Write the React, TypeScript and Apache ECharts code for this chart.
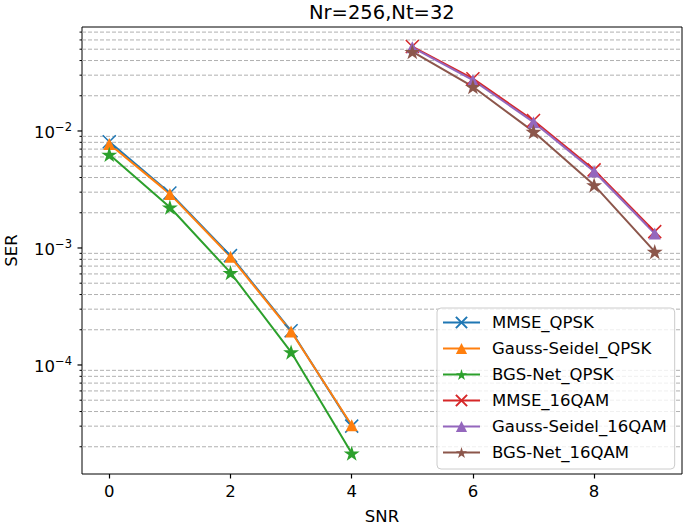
import React, { useEffect, useRef } from "react";
import * as echarts from "echarts";

const snrQPSK = [0, 1, 2, 3, 4];
const snr16QAM = [5, 6, 7, 8, 9];
const mmseQPSK = [8.1e-3, 2.95e-3, 8.6e-4, 1.96e-4, 3.0e-5];
const gsQPSK = [7.75e-3, 2.9e-3, 8.4e-4, 1.93e-4, 3.05e-5];
const bgsQPSK = [6.3e-3, 2.23e-3, 6.15e-4, 1.29e-4, 1.76e-5];
const mmse16QAM = [0.0527, 0.028, 0.0123, 4.65e-3, 1.38e-3];
const gs16QAM = [0.0519, 0.0272, 0.0119, 4.5e-3, 1.33e-3];
const bgs16QAM = [0.0476, 0.0239, 0.00987, 3.45e-3, 9.3e-4];

const xTicks = [0, 2, 4, 6, 8];
const yMajorTicks = [1e-4, 1e-3, 1e-2];
const yMinorTicks = [
  2e-5, 3e-5, 4e-5, 5e-5, 6e-5, 7e-5, 8e-5, 9e-5,
  2e-4, 3e-4, 4e-4, 5e-4, 6e-4, 7e-4, 8e-4, 9e-4,
  2e-3, 3e-3, 4e-3, 5e-3, 6e-3, 7e-3, 8e-3, 9e-3,
  2e-2, 3e-2, 4e-2, 5e-2, 6e-2, 7e-2,
];

const names = [
  "MMSE_QPSK",
  "Gauss-Seidel_QPSK",
  "BGS-Net_QPSK",
  "MMSE_16QAM",
  "Gauss-Seidel_16QAM",
  "BGS-Net_16QAM",
];
const colors = ["#1f77b4", "#ff7f0e", "#2ca02c", "#d62728", "#9467bd", "#8c564b"];

const FONT = "DejaVu Sans";
const X_SYM = "path://M0,0L10,10M10,0L0,10";
const STAR_SYM =
  "path://M100,0L77.55,69.1L4.9,69.1L63.7,111.8L41.2,180.9L100,138.2L158.8,180.9L136.3,111.8L195.1,69.1L122.45,69.1Z";

function makeSeries(name: string, color: string, xs: number[], ys: number[], kind: string) {
  const sym = kind === "x" ? X_SYM : kind === "tri" ? "triangle" : STAR_SYM;
  const size = kind === "x" ? 13 : kind === "tri" ? 12 : 16;
  return {
    type: "line",
    name,
    data: xs.map((x, i) => [x, ys[i]]),
    symbol: sym,
    symbolSize: size,
    symbolKeepAspect: true,
    showAllSymbol: true,
    lineStyle: { color, width: 2 },
    itemStyle: {
      color,
      borderColor: color,
      borderWidth: kind === "x" ? 1.5 : 0,
    },
    emphasis: { disabled: true },
    z: 3,
  };
}

export default function App() {
  const ref = useRef<HTMLDivElement>(null);
  useEffect(() => {
    if (!ref.current) return;
    const chart = echarts.init(ref.current, null, { renderer: "svg" });
    const tickData = [
      ...yMajorTicks.map((v) => [0, v, 1]),
      ...yMinorTicks.map((v) => [0, v, 0]),
    ];
    chart.setOption({
      animation: false,
      backgroundColor: "#fff",
      textStyle: { fontFamily: FONT },
      title: {
        text: "Nr=256,Nt=32",
        left: 309,
        top: 2,
        padding: 0,
        textStyle: { fontSize: 19.5, lineHeight: 20, fontWeight: "normal", color: "#000", fontFamily: FONT },
      },
      grid: {
        left: 82,
        right: 3,
        top: 27,
        bottom: 51,
        show: true,
        borderColor: "#000",
        borderWidth: 1,
        backgroundColor: "transparent",
        containLabel: false,
        outerBoundsMode: "none",
      },
      legend: {
        orient: "vertical",
        left: 437,
        top: 308,
        padding: [6, 8, 8, 5],
        itemWidth: 37,
        itemHeight: 14,
        itemGap: 9,
        backgroundColor: "rgba(255,255,255,0.8)",
        borderColor: "#cccccc",
        borderWidth: 1,
        borderRadius: 4,
        textStyle: { fontSize: 16.5, color: "#000", fontFamily: FONT, padding: [0, 0, 0, 7] },
        data: names,
      },
      xAxis: {
        type: "value",
        min: -0.45,
        max: 9.45,
        name: "SNR",
        nameLocation: "middle",
        nameGap: 34,
        nameTextStyle: { fontSize: 16.5, color: "#000", fontFamily: FONT },
        axisLine: { show: false },
        splitLine: { show: false },
        axisTick: { customValues: xTicks, length: 4.5, lineStyle: { color: "#000", width: 1.2 } },
        axisLabel: { customValues: xTicks, fontSize: 16.5, color: "#000", margin: 9, fontFamily: FONT },
      },
      yAxis: {
        type: "log",
        logBase: 10,
        min: 1.17e-5,
        max: 0.0774,
        name: "SER",
        nameLocation: "middle",
        nameGap: 62,
        nameTextStyle: { fontSize: 16.5, color: "#000", fontFamily: FONT },
        axisLine: { show: false },
        splitLine: { show: false },
        axisTick: { show: false },
        minorTick: { show: false },
        axisLabel: {
          showMinLabel: false,
          showMaxLabel: false,
          margin: 10,
          formatter: (v: number) => {
            const e = Math.log10(v);
            const r = Math.round(e);
            if (Math.abs(e - r) > 1e-6) return "";
            return `{b|10}{s|\u2212${-r}}`;
          },
          rich: {
            b: { fontSize: 16.5, color: "#000", fontFamily: FONT, padding: [4, 0, 0, 0] },
            s: { fontSize: 11.5, color: "#000", fontFamily: FONT, padding: [0, 0, 8, 0] },
          },
        },
      },
      series: [
        {
          type: "custom",
          name: "ticks",
          silent: true,
          clip: false,
          z: 1,
          data: tickData,
          renderItem: (params: any, api: any) => {
            const v = api.value(1);
            const major = api.value(2) === 1;
            const cs = params.coordSys;
            const y = api.coord([0, v])[1];
            const children: any[] = [];
            if (!major) {
              children.push({
                type: "line",
                shape: { x1: cs.x, y1: y, x2: cs.x + cs.width, y2: y },
                style: { stroke: "#b0b0b0", lineWidth: 1, lineDash: [4, 2] },
              });
            }
            children.push({
              type: "line",
              shape: { x1: cs.x - (major ? 4.5 : 2.5), y1: y, x2: cs.x, y2: y },
              style: { stroke: "#000", lineWidth: major ? 1.2 : 1 },
            });
            return { type: "group", children };
          },
        },
        makeSeries(names[0], colors[0], snrQPSK, mmseQPSK, "x"),
        makeSeries(names[1], colors[1], snrQPSK, gsQPSK, "tri"),
        makeSeries(names[2], colors[2], snrQPSK, bgsQPSK, "star"),
        makeSeries(names[3], colors[3], snr16QAM, mmse16QAM, "x"),
        makeSeries(names[4], colors[4], snr16QAM, gs16QAM, "tri"),
        makeSeries(names[5], colors[5], snr16QAM, bgs16QAM, "star"),
      ],
    });
    return () => chart.dispose();
  }, []);
  return <div ref={ref} style={{ width: 685, height: 525, position: "absolute", left: 0, top: 0 }} />;
}
